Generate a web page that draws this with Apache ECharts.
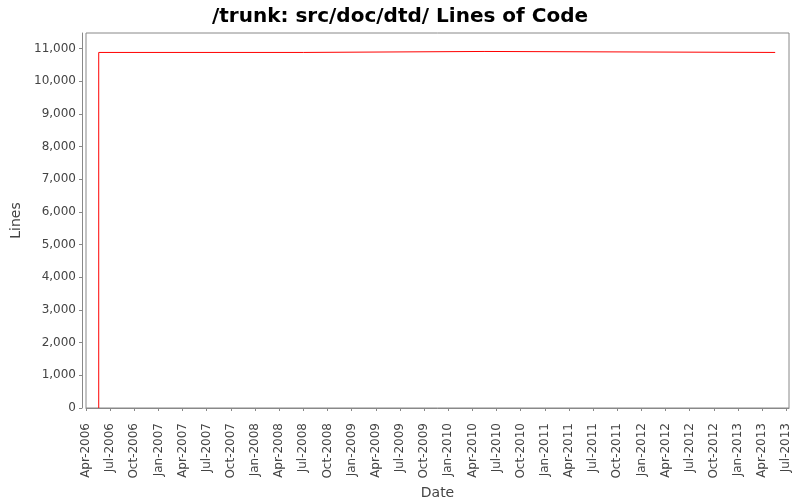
<!DOCTYPE html>
<html>
<head>
<meta charset="utf-8">
<script src="https://cdn.jsdelivr.net/npm/echarts@6/dist/echarts.min.js"></script>
<style>html,body{margin:0;padding:0;background:#fff}#c{width:800px;height:500px}</style>
</head>
<body>
<div id="c"></div>
<script>
// Data
const dates = ['2006-05-19', '2006-05-19', '2008-07-01', '2010-05-15', '2013-05-20'];
const lines = [0, 10880, 10910, 10880, 10880];
const xTickLabels = ['Apr-2006','Jul-2006','Oct-2006','Jan-2007','Apr-2007','Jul-2007','Oct-2007','Jan-2008','Apr-2008','Jul-2008','Oct-2008','Jan-2009','Apr-2009','Jul-2009','Oct-2009','Jan-2010','Apr-2010','Jul-2010','Oct-2010','Jan-2011','Apr-2011','Jul-2011','Oct-2011','Jan-2012','Apr-2012','Jul-2012','Oct-2012','Jan-2013','Apr-2013','Jul-2013'];
const yTicks = [0,1000,2000,3000,4000,5000,6000,7000,8000,9000,10000,11000];

const MON = {Jan:0,Feb:1,Mar:2,Apr:3,May:4,Jun:5,Jul:6,Aug:7,Sep:8,Oct:9,Nov:10,Dec:11};
function dateToMonth(s) {
  const [y, m, d] = s.split('-').map(Number);
  const dim = new Date(Date.UTC(y, m, 0)).getUTCDate();
  return (y - 2006) * 12 + (m - 1) + (d - 1) / dim;
}
function labelToMonth(l) {
  const [mo, yr] = l.split('-');
  return (Number(yr) - 2006) * 12 + MON[mo];
}
const xTickVals = xTickLabels.map(labelToMonth);
const labelMap = {};
xTickLabels.forEach((l, i) => labelMap[xTickVals[i]] = l);
const seriesData = dates.map((d, i) => [dateToMonth(d), lines[i]]);

const chart = echarts.init(document.getElementById('c'), null, {renderer: 'canvas'});
const font = 'DejaVu Sans';
chart.setOption({
  animation: false,
  backgroundColor: '#ffffff',
  title: {
    text: '/trunk: src/doc/dtd/ Lines of Code',
    left: 'center', top: 2,
    textStyle: {fontFamily: font, fontSize: 20, fontWeight: 'bold', color: '#000'}
  },
  grid: {left: 86, right: 11, top: 33, bottom: 92, show: true, borderColor: '#888', borderWidth: 1, backgroundColor: '#fff', containLabel: false, outerBoundsMode: 'none'},
  xAxis: {
    type: 'value',
    min: 3, max: 90.33,
    offset: 4,
    name: 'Date', nameLocation: 'middle', nameGap: 63,
    nameTextStyle: {fontFamily: font, fontSize: 14, color: '#444'},
    axisLine: {show: true, lineStyle: {color: '#888'}},
    axisTick: {show: true, length: 3, lineStyle: {color: '#888'}, customValues: xTickVals},
    axisLabel: {
      rotate: 90, margin: 11, fontFamily: font, fontSize: 12, color: '#444',
      customValues: xTickVals,
      formatter: v => labelMap[Math.round(v)] || ''
    },
    splitLine: {show: false}
  },
  yAxis: {
    type: 'value',
    min: 0, max: 11475,
    offset: 4,
    name: 'Lines', nameLocation: 'middle', nameGap: 57, nameRotate: 90,
    nameTextStyle: {fontFamily: font, fontSize: 14, color: '#444'},
    axisLine: {show: true, lineStyle: {color: '#888'}},
    axisTick: {show: true, length: 3, lineStyle: {color: '#888'}, customValues: yTicks},
    axisLabel: {
      margin: 6, fontFamily: font, fontSize: 12, color: '#444',
      customValues: yTicks,
      formatter: v => v.toLocaleString('en-US')
    },
    splitLine: {show: false}
  },
  series: [{
    type: 'line',
    step: 'end',
    data: seriesData,
    showSymbol: false,
    lineStyle: {color: '#ff0000', width: 1},
    itemStyle: {color: '#ff0000'}
  }]
});
</script>
</body>
</html>
